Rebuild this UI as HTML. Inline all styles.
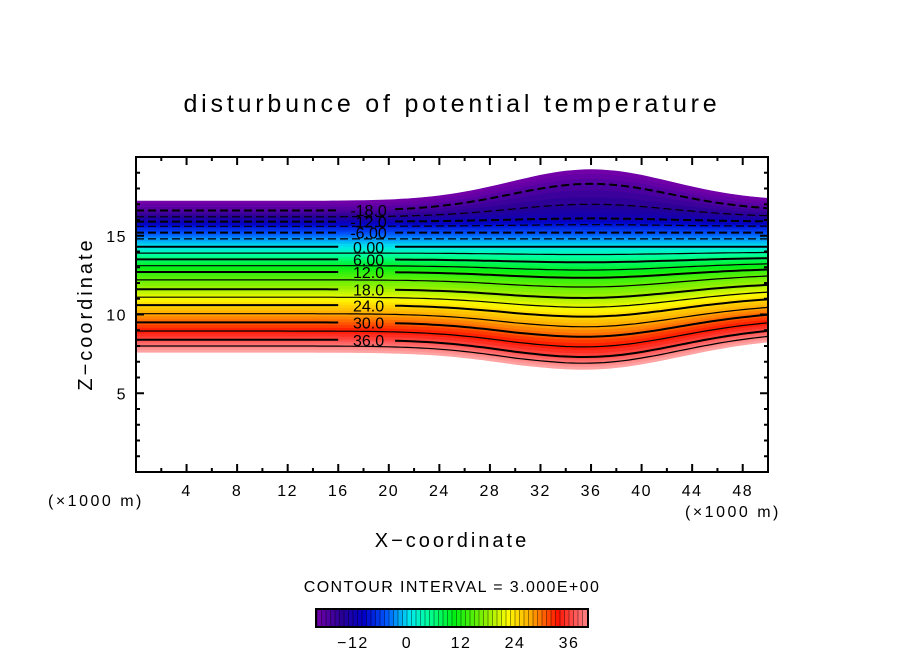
<!DOCTYPE html>
<html><head><meta charset="utf-8"><style>
body{margin:0;background:#fff}
svg{display:block;font-family:"Liberation Sans","DejaVu Sans",sans-serif}
</style></head><body>
<svg id="chart" width="904" height="654" viewBox="0 0 904 654" xmlns="http://www.w3.org/2000/svg">
<rect width="904" height="654" fill="#fff"/>
<text x="452" y="112" font-size="25" text-anchor="middle" letter-spacing="3.8">disturbunce of potential temperature</text>
<g id="field"></g>
<g id="lines"></g>
<g id="labels"></g>
<rect x="136" y="157" width="632" height="315" fill="none" stroke="#000" stroke-width="2"/>
<g id="ticks"></g>
<text transform="translate(92,314) rotate(-90)" font-size="20" text-anchor="middle" letter-spacing="3">Z−coordinate</text>
<text x="452" y="547" font-size="20" text-anchor="middle" letter-spacing="3">X−coordinate</text>
<text x="48" y="506" font-size="16" letter-spacing="2.5">(×1000 m)</text>
<text x="685" y="517" font-size="16" letter-spacing="2.5">(×1000 m)</text>
<text x="452" y="592" font-size="16" text-anchor="middle" letter-spacing="1.4">CONTOUR INTERVAL = 3.000E+00</text>
<g id="cbar"></g>
</svg>
<script>
const levels = [-21,-18,-15,-12,-9,-6,-3,0,3,6,9,12,15,18,21,24,27,30,33,36,39,42];
const zLeft  = [17.2,16.6,16.2,15.9,15.6,15.2,14.8,14.3,13.9,13.5,13.1,12.7,12.2,11.6,11.1,10.6,10.05,9.5,8.95,8.4,8.0,7.6];
const zPeakShift = [2.0,1.7,0.8,0.2,0.1,0,0,0,-0.1,-0.2,-0.3,-0.4,-0.5,-0.6,-0.7,-0.8,-0.9,-1.0,-1.1,-1.2,-1.2,-1.2];
const zRightShift = [0,0,0,0,0,0,0,0,0.05,0.1,0.15,0.2,0.3,0.35,0.4,0.45,0.5,0.6,0.65,0.7,0.75,0.8];
const labelLevels = [-18,-12,-6,0,6,12,18,24,30,36];
const labelTexts = ["-18.0","-12.0","-6.00","0.00","6.00","12.0","18.0","24.0","30.0","36.0"];
const xTicks = [4,8,12,16,20,24,28,32,36,40,44,48];
const yTicks = [5,10,15];
const cbarTicks = [-12,0,12,24,36];

const NS="http://www.w3.org/2000/svg";
const X=x=>136+x*632/50, Y=z=>472-z*315/20;
const CX=v=>407+v*4.5;
const stops=[[-21,[120,0,170]],[-15,[40,0,150]],[-10,[0,0,200]],[-5,[0,90,255]],[0,[0,230,240]],[4,[0,255,160]],[10,[0,240,20]],[17,[140,240,0]],[22,[255,250,0]],[27,[255,170,0]],[33,[255,20,0]],[37,[255,90,90]],[42,[255,170,170]]];
function col(v){for(let i=0;i<stops.length-1;i++){const a=stops[i],b=stops[i+1];if(v<=b[0]){const t=Math.max(0,(v-a[0])/(b[0]-a[0]));return`rgb(${a[1].map((c,k)=>Math.round(c+(b[1][k]-c)*t)).join(',')})`;}}return'rgb(255,170,170)';}
function g(x){return Math.exp(-Math.pow((x-36)/9,2));}
function zAt(i,x){return zLeft[i]+zPeakShift[i]*g(x)+zRightShift[i]*Math.max(0,(x-30)/20)*(1-g(x)*0.5);}
function zLev(v,x){
 let i=Math.min(levels.length-2,Math.max(0,Math.floor((v-levels[0])/3)));const t=(v-levels[i])/3;
 return zAt(i,x)*(1-t)+zAt(i+1,x)*t;}
const xs=[];for(let x=0;x<=50.001;x+=0.5)xs.push(x);
const field=document.getElementById('field');
for(let v=-21;v<42;v+=1){
 const top=xs.map(x=>X(x).toFixed(1)+','+Y(zLev(v,x)).toFixed(1));
 const bot=xs.slice().reverse().map(x=>X(x).toFixed(1)+','+Y(zLev(v+1,x)).toFixed(1));
 const p=document.createElementNS(NS,'polygon');
 
 
 p.setAttribute('points',top.concat(bot).join(' '));p.setAttribute('fill',col(v+0.5));p.setAttribute('stroke',col(v+0.5));p.setAttribute('stroke-width','0.6');
 field.appendChild(p);}
const lines=document.getElementById('lines'),labs=document.getElementById('labels');
for(let i=1;i<levels.length-1;i++){
 const c=levels[i];if(c>39)continue;
 const li=labelLevels.indexOf(c);
 const segs=li>=0?[xs.filter(x=>x<=16.3),xs.filter(x=>x>=20.5)]:[xs];
 segs.forEach(s=>{const pl=document.createElementNS(NS,'polyline');
  
  
  pl.setAttribute('points',s.map(x=>X(x).toFixed(1)+','+Y(zAt(i,x)).toFixed(1)).join(' '));
  pl.setAttribute('fill','none');pl.setAttribute('stroke','#000');pl.setAttribute('stroke-width',li>=0?'2':'1.2');
  if(c<0)pl.setAttribute('stroke-dasharray','8,4');lines.appendChild(pl);});
 if(li>=0){const t=document.createElementNS(NS,'text');
  
  
  t.setAttribute('x',X(18.4));t.setAttribute('y',Y(zAt(i,18))+6);t.setAttribute('font-size','16');t.setAttribute('text-anchor','middle');
  t.textContent=labelTexts[li];labs.appendChild(t);}
}
const tk=document.getElementById('ticks');
function line(x1,y1,x2,y2,name){const l=document.createElementNS(NS,'line');
 
 
 l.setAttribute('x1',x1);l.setAttribute('y1',y1);l.setAttribute('x2',x2);l.setAttribute('y2',y2);l.setAttribute('stroke','#000');l.setAttribute('stroke-width','2');tk.appendChild(l);}
function txt(x,y,s,name,parent,anchor){const t=document.createElementNS(NS,'text');
 
 
 t.setAttribute('x',x);t.setAttribute('y',y);t.setAttribute('font-size','16');t.setAttribute('letter-spacing','1.5');t.setAttribute('text-anchor',anchor||'middle');t.textContent=s;parent.appendChild(t);}
for(let x=2;x<50;x+=2){const L=x%4===0?8:4;line(X(x),472,X(x),472-L,'x-tick');line(X(x),157,X(x),157+L,'x-tick');}
for(let z=1;z<20;z++){const L=z%5===0?8:4;line(136,Y(z),136+L,Y(z),'y-tick');line(768,Y(z),768-L,Y(z),'y-tick');}
xTicks.forEach(x=>txt(X(x),496,String(x),'x-tick-label',tk));
yTicks.forEach(z=>txt(127,Y(z)+6,String(z),'y-tick-label',tk,'end'));
const cb=document.getElementById('cbar');
for(let v=-20;v<40;v+=1){const r=document.createElementNS(NS,'rect');
 
 
 const x0=CX(v),w=Math.min(4.6,588-x0);
 r.setAttribute('x',x0);r.setAttribute('y',609);r.setAttribute('width',w);r.setAttribute('height',18);r.setAttribute('fill',col(v));cb.appendChild(r);
 const s=document.createElementNS(NS,'line');
 
 
 s.setAttribute('x1',x0);s.setAttribute('x2',x0);s.setAttribute('y1',609);s.setAttribute('y2',627);s.setAttribute('stroke','#000');s.setAttribute('stroke-width','0.8');s.setAttribute('opacity','0.5');cb.appendChild(s);}
const fr=document.createElementNS(NS,'rect');


fr.setAttribute('x',316);fr.setAttribute('y',609);fr.setAttribute('width',272);fr.setAttribute('height',18);fr.setAttribute('fill','none');fr.setAttribute('stroke','#000');fr.setAttribute('stroke-width','2');cb.appendChild(fr);
cbarTicks.forEach(v=>txt(CX(v),648,v<0?'−'+(-v):String(v),'colorbar-tick-label',cb));
</script>
</body></html>
